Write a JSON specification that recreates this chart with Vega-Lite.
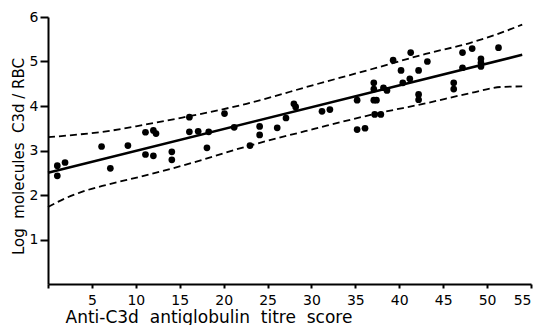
{
  "$schema": "https://vega.github.io/schema/vega-lite/v6.json",
  "width": 483,
  "height": 267,
  "autosize": "none",
  "padding": {"left": 48, "top": 17, "right": 11, "bottom": 41},
  "background": "white",
  "config": {
    "view": {"stroke": null},
    "axis": {
      "grid": false,
      "domainColor": "black",
      "domainWidth": 2,
      "tickColor": "black",
      "tickWidth": 2,
      "labelFont": "DejaVu Sans",
      "labelFontSize": 14,
      "labelColor": "black",
      "titleFont": "DejaVu Sans",
      "titleFontSize": 16,
      "titleFontWeight": "normal",
      "titleColor": "black"
    }
  },
  "datasets": {
    "points": [
      {"x": 1.06, "y": 2.66}, {"x": 1.06, "y": 2.43}, {"x": 1.94, "y": 2.73},
      {"x": 6.1, "y": 3.09}, {"x": 7.1, "y": 2.6}, {"x": 9.1, "y": 3.11},
      {"x": 11.1, "y": 3.41}, {"x": 11.1, "y": 2.91}, {"x": 12.0, "y": 3.45},
      {"x": 12.3, "y": 3.38}, {"x": 12.0, "y": 2.88}, {"x": 14.1, "y": 2.97},
      {"x": 14.1, "y": 2.79}, {"x": 16.1, "y": 3.75}, {"x": 16.1, "y": 3.42},
      {"x": 17.1, "y": 3.43}, {"x": 18.3, "y": 3.42}, {"x": 18.1, "y": 3.06},
      {"x": 20.1, "y": 3.83}, {"x": 21.2, "y": 3.52}, {"x": 23.0, "y": 3.11},
      {"x": 24.1, "y": 3.54}, {"x": 24.1, "y": 3.35}, {"x": 26.1, "y": 3.51},
      {"x": 27.1, "y": 3.73}, {"x": 28.0, "y": 4.05}, {"x": 28.2, "y": 3.98},
      {"x": 31.2, "y": 3.88}, {"x": 32.1, "y": 3.92}, {"x": 35.2, "y": 4.13},
      {"x": 35.2, "y": 3.47}, {"x": 36.1, "y": 3.5}, {"x": 37.1, "y": 4.52},
      {"x": 37.1, "y": 4.38}, {"x": 37.1, "y": 4.13}, {"x": 37.4, "y": 4.13},
      {"x": 37.2, "y": 3.81}, {"x": 37.9, "y": 3.81}, {"x": 38.2, "y": 4.41},
      {"x": 38.6, "y": 4.35}, {"x": 39.3, "y": 5.03}, {"x": 40.2, "y": 4.8},
      {"x": 40.4, "y": 4.52}, {"x": 41.2, "y": 4.61}, {"x": 41.3, "y": 5.2},
      {"x": 42.2, "y": 4.8}, {"x": 42.2, "y": 4.26}, {"x": 42.2, "y": 4.14},
      {"x": 43.2, "y": 5.0}, {"x": 47.2, "y": 5.2}, {"x": 48.3, "y": 5.29},
      {"x": 51.3, "y": 5.31}, {"x": 47.2, "y": 4.86}, {"x": 49.3, "y": 5.06},
      {"x": 49.3, "y": 4.97}, {"x": 49.3, "y": 4.89}, {"x": 46.2, "y": 4.52},
      {"x": 46.2, "y": 4.38}
    ],
    "fit": [{"x": 0, "y": 2.5}, {"x": 54, "y": 5.15}],
    "upper": [
      {"x": 0, "y": 3.3}, {"x": 3.5, "y": 3.36}, {"x": 7.3, "y": 3.45},
      {"x": 11, "y": 3.58}, {"x": 15.3, "y": 3.74}, {"x": 22.6, "y": 4.05},
      {"x": 30.4, "y": 4.48}, {"x": 36.7, "y": 4.82}, {"x": 43, "y": 5.17},
      {"x": 48.1, "y": 5.42}, {"x": 52.6, "y": 5.72}, {"x": 54, "y": 5.83}
    ],
    "lower": [
      {"x": 0, "y": 1.73}, {"x": 1.9, "y": 1.92}, {"x": 4, "y": 2.08},
      {"x": 6.7, "y": 2.23}, {"x": 10.5, "y": 2.41}, {"x": 15.3, "y": 2.66},
      {"x": 22.6, "y": 3.09}, {"x": 30.4, "y": 3.49}, {"x": 37.4, "y": 3.83},
      {"x": 43, "y": 4.06}, {"x": 48.1, "y": 4.29}, {"x": 51.8, "y": 4.43},
      {"x": 54, "y": 4.44}
    ]
  },
  "layer": [
    {
      "data": {"name": "upper"},
      "mark": {"type": "line", "color": "black", "strokeWidth": 1.8, "strokeDash": [7, 4], "interpolate": "monotone"},
      "encoding": {
        "x": {
          "field": "x", "type": "quantitative",
          "scale": {"domain": [0, 55], "nice": false, "zero": false},
          "axis": {
            "values": [0, 5, 10, 15, 20, 25, 30, 35, 40, 45, 50, 55],
            "labelExpr": "datum.value == 0 ? '' : datum.label",
            "tickSize": 4,
            "labelPadding": 5,
            "title": "Anti-C3d\u00a0 antiglobulin\u00a0 titre\u00a0 score",
            "titleFontSize": 17,
            "titleAnchor": "start",
            "titleAlign": "left",
            "titleX": 17,
            "titleY": 38,
            "titleBaseline": "alphabetic"
          }
        },
        "y": {
          "field": "y", "type": "quantitative",
          "scale": {"domain": [0, 6], "nice": false},
          "axis": {
            "values": [1, 2, 3, 4, 5, 6],
            "tickSize": 8,
            "labelPadding": 2,
            "title": "Log\u00a0 molecules\u00a0 C3d / RBC",
            "titleFontSize": 15,
            "titleX": -30,
            "titleY": 139,
            "titleBaseline": "middle",
            "titleAlign": "center",
            "titleAngle": -90
          }
        }
      }
    },
    {
      "data": {"name": "lower"},
      "mark": {"type": "line", "color": "black", "strokeWidth": 1.8, "strokeDash": [7, 4], "interpolate": "monotone"},
      "encoding": {
        "x": {"field": "x", "type": "quantitative"},
        "y": {"field": "y", "type": "quantitative"}
      }
    },
    {
      "data": {"name": "fit"},
      "mark": {"type": "line", "color": "black", "strokeWidth": 2.5},
      "encoding": {
        "x": {"field": "x", "type": "quantitative"},
        "y": {"field": "y", "type": "quantitative"}
      }
    },
    {
      "data": {"name": "points"},
      "mark": {"type": "circle", "color": "black", "opacity": 1, "size": 45},
      "encoding": {
        "x": {"field": "x", "type": "quantitative"},
        "y": {"field": "y", "type": "quantitative"}
      }
    }
  ]
}
